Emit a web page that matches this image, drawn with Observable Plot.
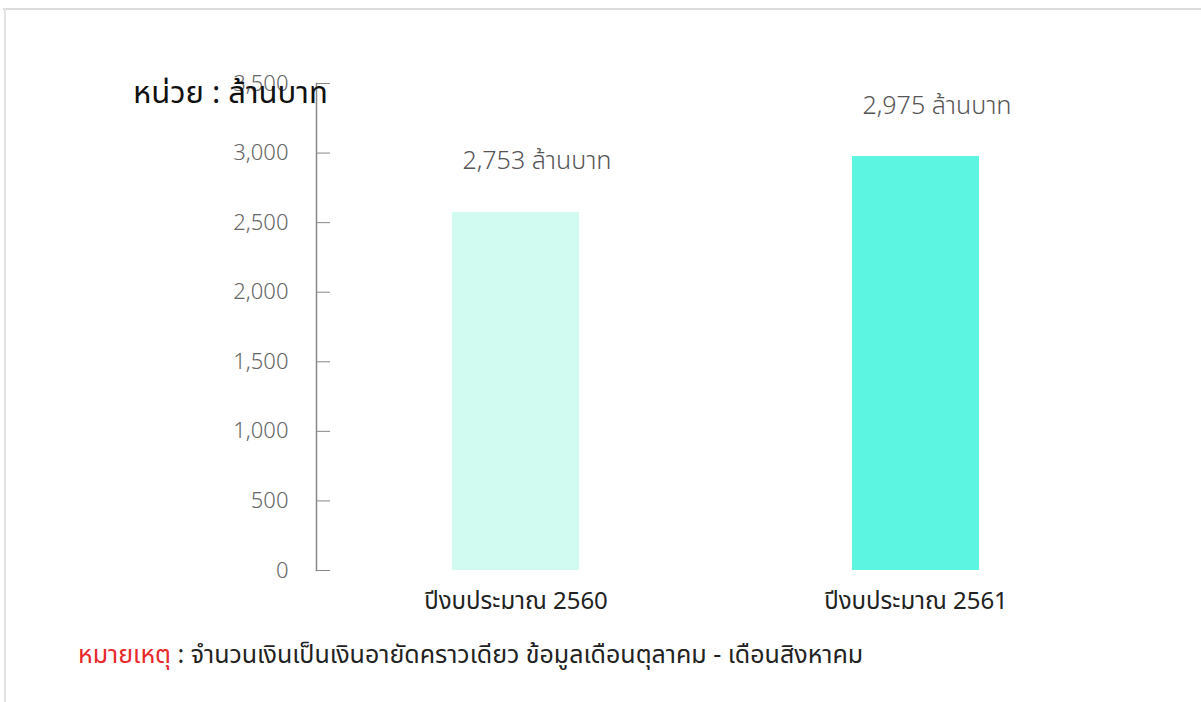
<!DOCTYPE html>
<html>
<head>
<meta charset="utf-8">
<script src="https://cdn.jsdelivr.net/npm/d3@7"></script>
<script src="https://cdn.jsdelivr.net/npm/@observablehq/plot@0.6"></script>
<style>
  html, body { margin: 0; padding: 0; background: #fff; }
  #wrap { position: relative; width: 1201px; height: 702px; overflow: hidden; font-family: "Noto Sans Thai", "Noto Sans", "Loma", "Garuda", sans-serif; }
  #borderTop { position: absolute; left: 3px; top: 8px; width: 1198px; height: 2px; background: #dcdcdc; }
  #borderLeft { position: absolute; left: 4px; top: 8px; width: 2px; height: 694px; background: #e2e2e2; }
  #chart { position: absolute; left: 0; top: 0; }
  #title { position: absolute; left: 133px; top: 78px; font-size: 31px; line-height: 1; color: #111; white-space: nowrap; }
  #note { position: absolute; left: 78px; top: 643px; font-size: 25px; line-height: 1; color: #222; white-space: nowrap; }
  #note .red { color: #e8282b; }
</style>
</head>
<body>
<div id="wrap">
  <div id="borderTop"></div>
  <div id="borderLeft"></div>
  <div id="chart"></div>
  <div id="title">หน่วย : ล้านบาท</div>
  <div id="note"><span class="red">หมายเหตุ</span> : จำนวนเงินเป็นเงินอายัดคราวเดียว ข้อมูลเดือนตุลาคม - เดือนสิงหาคม</div>
</div>
<script>
const categories = ["ปีงบประมาณ 2560", "ปีงบประมาณ 2561"];
const values = [2573, 2975];
const valueLabels = ["2,753 ล้านบาท", "2,975 ล้านบาท"];
const barColors = ["#d1fbf0", "#5cf5e1"];
const yTicks = [0, 500, 1000, 1500, 2000, 2500, 3000, 3500];

const data = categories.map((c, i) => ({cat: c, value: values[i], label: valueLabels[i], color: barColors[i]}));
const font = '"Noto Sans Thai", "Noto Sans", "Loma", "Garuda", sans-serif';

const chart = Plot.plot({
  width: 1201,
  height: 630,
  marginLeft: 316,
  marginRight: 85,
  marginTop: 83,
  marginBottom: 60,
  style: {fontFamily: font, background: "transparent", overflow: "visible"},
  x: {domain: categories, paddingInner: 0.682, paddingOuter: 0.34, label: null},
  y: {domain: [0, 3500], label: null},
  marks: [
    Plot.barY(data, {x: "cat", y: "value", fill: "color"}),
    Plot.text(data, {x: "cat", y: "value", text: "label", dy: -51, dx: 21, fontSize: 25, fill: "#555", fontWeight: 300}),
    Plot.axisX({tickSize: 0, tickPadding: 21, fontSize: 24, fill: "#222", label: null}),
    Plot.axisY({ticks: yTicks, tickSize: -14, tickPadding: 42, tickFormat: d3.format(","), fontSize: 22, fill: "#666", stroke: "#888", fontWeight: 300, label: null}),
    Plot.frame({anchor: "left", stroke: "#888", strokeWidth: 1.5})
  ]
});
document.getElementById("chart").appendChild(chart);
</script>
</body>
</html>
